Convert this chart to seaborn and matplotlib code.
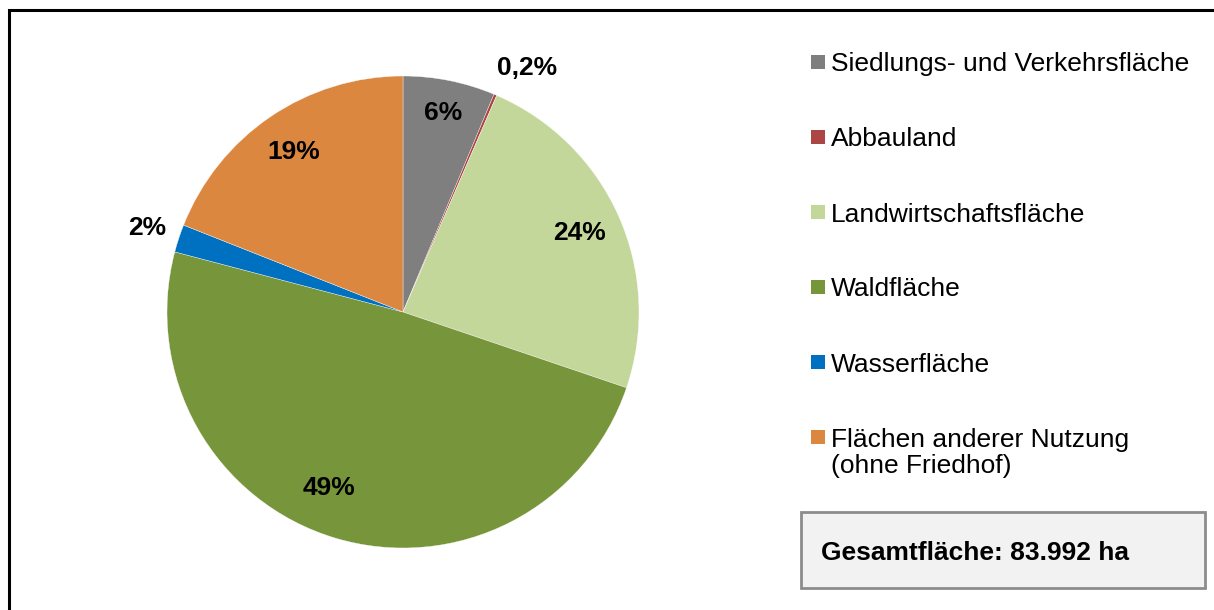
import numpy as np
import matplotlib
matplotlib.use("Agg")
import matplotlib.pyplot as plt
import seaborn as sns
from matplotlib.patches import Rectangle

# data (share of total area, %)
categories = [
    "Siedlungs- und Verkehrsfläche",
    "Abbauland",
    "Landwirtschaftsfläche",
    "Waldfläche",
    "Wasserfläche",
    "Flächen anderer Nutzung\n(ohne Friedhof)",
]
shares = [6.3, 0.2, 23.7, 48.9, 1.9, 19.0]
pct_labels = ["6%", "0,2%", "24%", "49%", "2%", "19%"]
colors = ["#7f7f7f", "#ab4645", "#c4d79b", "#77953b", "#0070c0", "#dc8740"]
total_text = "Gesamtfläche: 83.992 ha"

sns.set_theme(style="white")
plt.rcParams["font.family"] = ["Liberation Sans", "DejaVu Sans"]
plt.rcParams["text.color"] = "black"

W, H = 1214, 610
fig = plt.figure(figsize=(W / 100, H / 100), dpi=100)

# outer frame (runs off right / bottom edge as in the original)
fig.patches.append(Rectangle((9 / W, -0.05), 1.2, 1 - 10 / H + 0.05,
                             transform=fig.transFigure, fill=False,
                             edgecolor="black", linewidth=2.2))

# pie
cx, cy, r = 403, 312, 236
ax = fig.add_axes([(cx - r) / W, (H - cy - r) / H, 2 * r / W, 2 * r / H])
wedges, _ = ax.pie(shares, colors=colors, startangle=90, counterclock=False,
                   radius=1, wedgeprops=dict(edgecolor="white", linewidth=0.25))
ax.set_xlim(-1, 1)
ax.set_ylim(-1, 1)
ax.set_aspect("equal")
ax.axis("off")

label_dist = [0.86, 1.16, 0.82, 0.81, 1.14, 0.82]
angle_shift = [0, 4, 0, 6, 0, 0]
for w, lab, d, sh in zip(wedges, pct_labels, label_dist, angle_shift):
    ang = np.deg2rad((w.theta1 + w.theta2) / 2 - sh)
    ax.text(d * np.cos(ang), d * np.sin(ang), lab, ha="center", va="center",
            fontsize=19, fontweight="bold", color="black", clip_on=False)

# legend, drawn by hand so the marker sits on the first text line
x_mark, x_text = 811, 831
y0, step, sq = 62, 75, 14
for i, (lab, col) in enumerate(zip(categories, colors)):
    y = y0 + i * step
    fig.patches.append(Rectangle((x_mark / W, (H - y - sq / 2) / H), sq / W, sq / H,
                                 transform=fig.transFigure, facecolor=col,
                                 edgecolor="none"))
    for k, line in enumerate(lab.split("\n")):
        fig.text(x_text / W, (H - y - 27 * k) / H, line, ha="left",
                 va="center_baseline", fontsize=19, color="black")

# total area box
bx0, by0, bx1, by1 = 801, 512, 1205, 588
fig.patches.append(Rectangle((bx0 / W, (H - by1) / H), (bx1 - bx0) / W, (by1 - by0) / H,
                             transform=fig.transFigure, facecolor="#f2f2f2",
                             edgecolor="#8c8c8c", linewidth=2))
fig.text(821 / W, (H - 551) / H, total_text, ha="left", va="center_baseline",
         fontsize=19, fontweight="bold", color="black")

fig.savefig("out.png", dpi=100)
